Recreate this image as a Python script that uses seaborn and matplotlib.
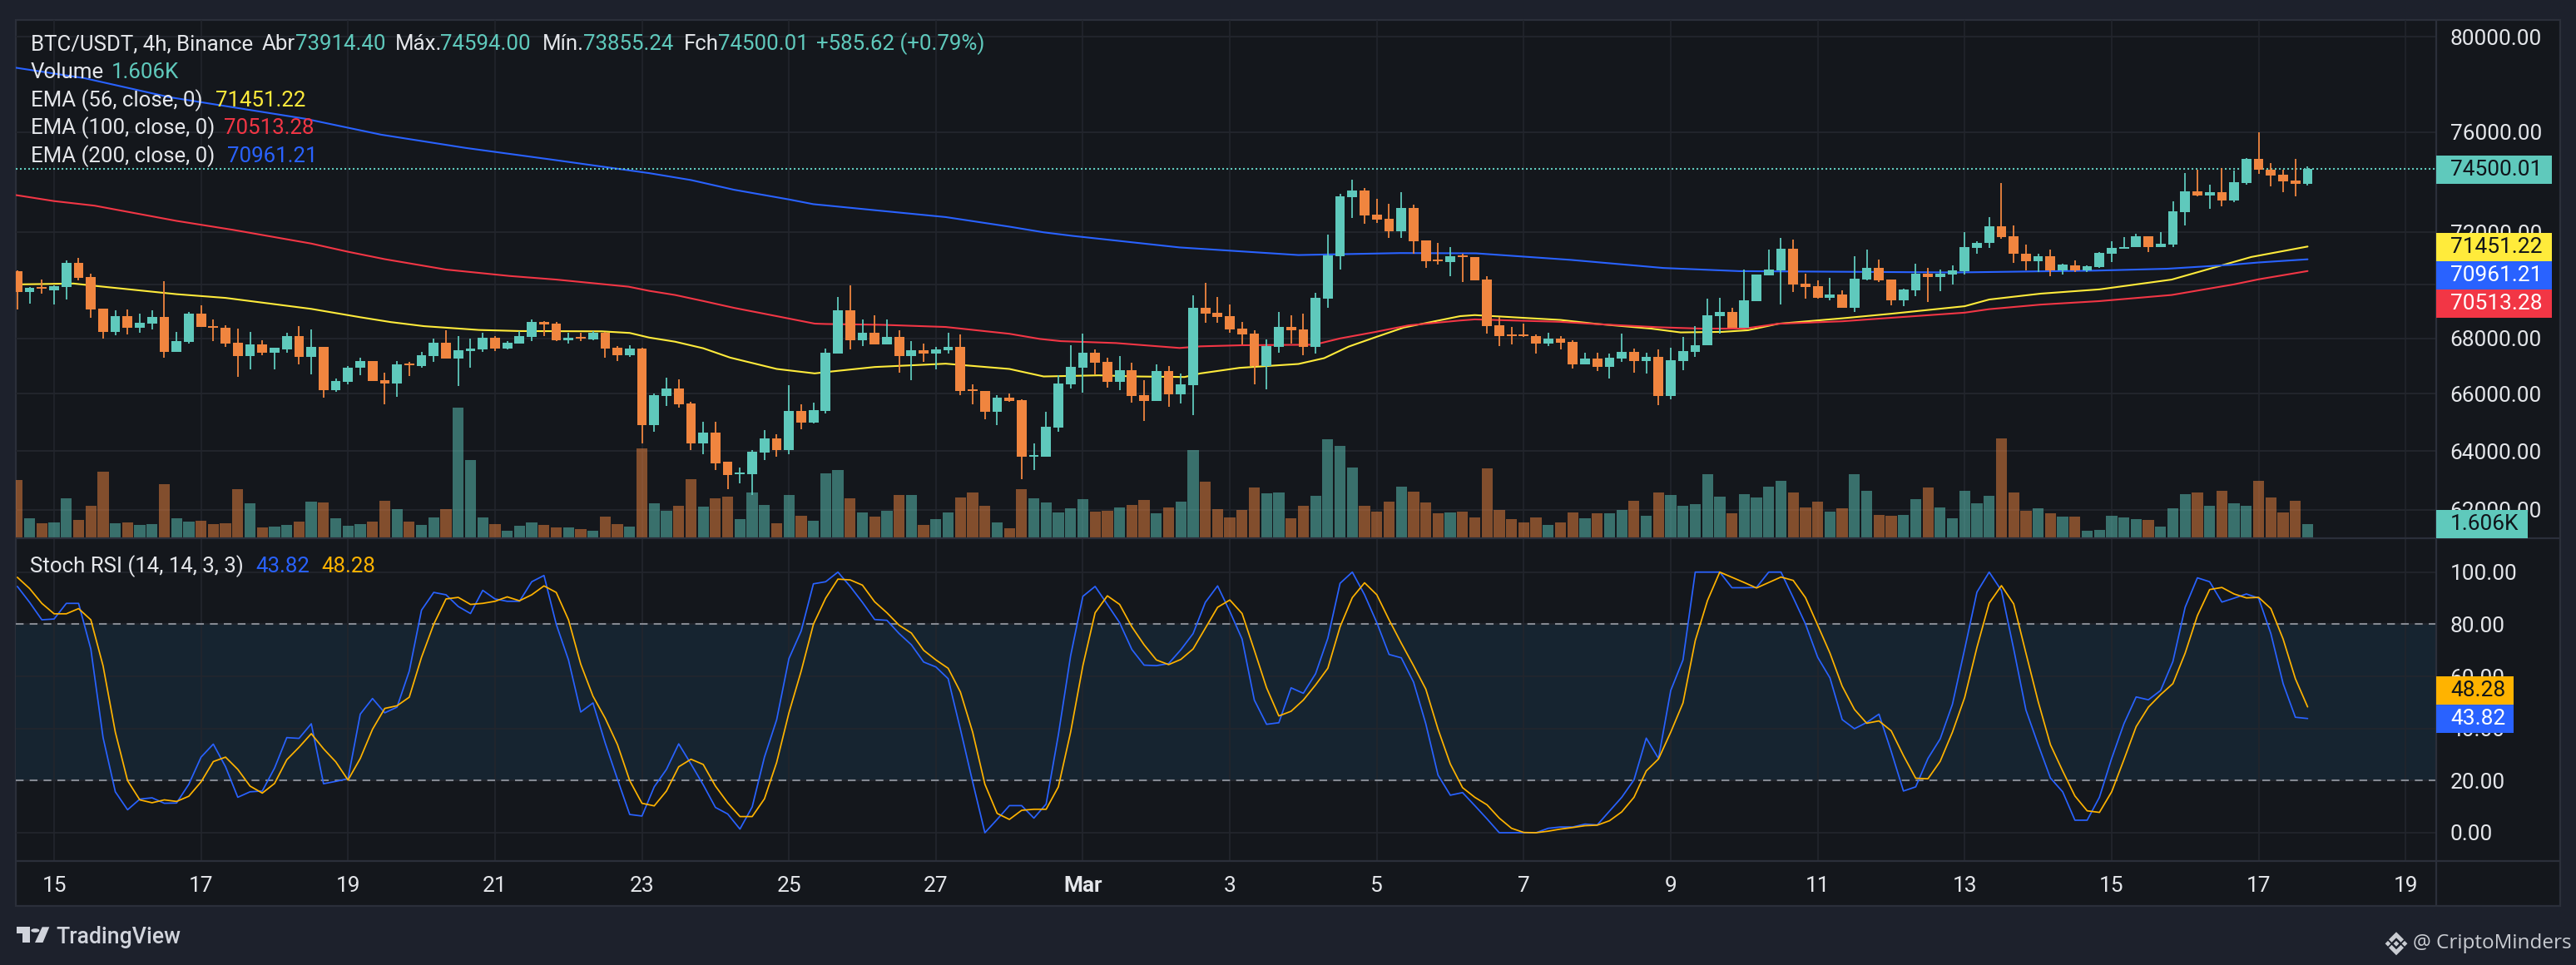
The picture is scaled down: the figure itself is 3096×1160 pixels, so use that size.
import numpy as np
import pandas as pd
import seaborn as sns
import matplotlib.pyplot as plt
from matplotlib.patches import Rectangle, Polygon, Circle
from matplotlib.lines import Line2D

# 4h candles, one value per bar
open_ = [70517,69727,69896,69779,69909,70830,70290,69100,68230,68820,
    68390,68540,68790,67510,67870,68900,68450,68390,67840,67360,
    67770,67480,67600,68080,67340,67690,66140,66440,66940,67190,
    66490,66370,67100,66990,67350,67840,67270,67530,67600,68010,
    67620,67810,68050,68600,68550,67920,68050,67970,68200,67660,
    67380,67640,64900,65930,66200,65660,64250,64640,63620,63210,
    63200,63930,64420,64020,65400,64990,65400,67450,69040,67930,
    68200,67780,68050,67360,67570,67450,67570,67690,66170,66110,
    65370,65870,65780,63790,63790,64810,66340,66950,67470,67150,
    66430,66850,65960,65750,66830,65990,66320,69130,68940,68820,
    68360,68170,67000,67690,68420,68330,67690,69460,71090,73390,
    73650,72690,72530,72030,72960,71680,70960,70860,71120,71060,
    70180,68480,68140,68140,68080,67810,67990,67870,67060,67270,
    66970,67270,67510,67180,67330,65930,67180,67510,67750,68820,
    68970,68390,69380,70350,70540,71350,70020,69930,69510,69620,
    69130,70180,70640,70180,69410,69780,70410,70280,70380,70500,
    71390,71590,72220,71840,71180,70900,71090,70540,70730,70540,
    70670,71180,71360,71420,71840,71440,71510,72790,73610,73440,
    73580,73250,73930,74900,74470,74280,74040,73914.40]
close = [69727,69870,69844,69935,70830,70245,69077,68230,68820,68390,
    68570,68790,67510,67900,68900,68420,68380,67810,67360,67770,
    67480,67650,68080,67340,67690,66140,66460,66950,67190,66470,
    66360,67060,67030,67380,67840,67270,67580,67640,68010,67620,
    67840,68080,68600,68500,67920,68010,67990,68200,67640,67380,
    67640,64900,65960,66200,65630,64250,64640,63570,63170,63260,
    63960,64420,64020,65400,64990,65430,67480,69040,67930,68200,
    67780,68050,67360,67570,67450,67600,67690,66110,66110,65370,
    65870,65750,63790,63850,64840,66370,66980,67470,67110,66430,
    66850,65930,65750,66830,65990,66350,69130,68910,68790,68330,
    68140,67000,67720,68420,68300,67690,69490,71120,73420,73650,
    72660,72490,72030,72960,71640,70900,70900,71090,71060,70150,
    68450,68080,68080,68080,67810,67990,67840,67060,67270,66970,
    67300,67510,67180,67330,65930,67210,67540,67750,68850,68970,
    68390,69410,70380,70570,71350,69990,69900,69510,69620,69130,
    70220,70640,70150,69410,69810,70410,70280,70410,70540,71420,
    71590,72220,71810,71160,70900,71090,70540,70750,70540,70700,
    71220,71390,71440,71840,71440,71550,72820,73610,73440,73580,
    73250,73970,74900,74460,74240,74010,73910,74500.01]
high = [70530,69896,70200,69960,70910,71000,70400,69100,69050,69060,
    68900,69050,70120,68240,68980,69220,68700,68480,68360,68240,
    67920,67670,68210,68450,68330,67690,66560,66990,67290,67190,
    66770,67170,67150,67500,68000,68300,68080,68000,68200,68080,
    67900,68270,68700,68640,68610,68200,68200,68270,68240,67710,
    67740,67660,66010,66590,66530,65720,65020,65020,63620,63430,
    64020,64710,64570,66310,65640,65700,67630,69530,69960,68690,
    68840,68690,68290,67900,67810,67690,68200,68140,66350,66110,
    65960,66020,65810,64270,65370,66670,67750,68170,67600,67300,
    67360,67120,66500,67070,67010,66740,69590,70080,69530,69250,
    68600,68290,67960,68970,68840,68900,69680,71900,73520,74080,
    73750,73320,73120,73580,73090,71680,71580,71420,71190,71060,
    70310,68790,68420,68540,68140,68200,68080,67930,67480,67480,
    67450,68170,67630,67480,67600,67660,68050,68450,69460,69490,
    69130,70570,70380,71320,71770,71710,70410,70150,70250,69770,
    71090,71320,70960,70180,69840,70800,70640,70570,70740,72000,
    71670,72600,73940,72280,71510,71180,71320,70780,70920,70730,
    71250,71650,71800,71950,71840,72000,73220,74330,74470,73880,
    74540,74450,74930,75990,74740,74470,74900,74594]
low = [69064,69298,69660,69246,69440,70150,68750,67990,68110,68140,
    68200,68320,67310,67510,67820,68420,67890,67700,66620,66880,
    67400,66880,67480,67060,66700,65860,66060,66340,66680,66470,
    65630,65900,66630,66950,67140,67270,66290,66950,67510,67530,
    67600,67810,67900,68080,67900,67810,67890,67920,67300,67180,
    67330,64270,64650,65580,65510,64020,63880,63340,62700,62890,
    62500,63680,63790,63900,64750,64960,65310,67450,67600,67720,
    67780,67780,66770,66500,67150,66890,67450,65960,65640,65110,
    64900,65730,63030,63350,63790,64670,66200,66050,66710,66230,
    66140,65690,65050,65750,65550,65670,65260,68570,68570,68200,
    67780,66350,66170,67480,67810,67390,67450,69130,70570,72560,
    72330,72360,71770,71770,71160,70640,70770,70310,70110,70150,
    68170,67720,67780,68050,67450,67720,67600,66910,67060,66820,
    66550,67150,66770,66740,65610,65810,66860,67330,67750,68170,
    68390,68390,69380,70350,69250,69720,69460,69480,69410,69130,
    68970,70150,70110,69220,69190,69560,69340,69750,69990,70390,
    71180,71390,71740,70830,70540,70480,70310,70390,70480,70480,
    70640,70870,71360,71420,71250,71420,71440,72280,73420,72910,
    73010,73180,73880,74310,73810,73580,73420,73855]
volume = [6900,2327,1734,1819,4738,2115,3849,7952,1734,1819,
    1523,1607,6430,2327,1904,2030,1607,1734,5837,4145,
    1227,1311,1523,1904,4315,4230,2327,1438,1607,1904,
    4442,3426,1904,1523,2411,3426,15693,9348,2411,1607,
    804,1438,1819,1523,1227,1227,1015,804,2538,1607,
    1311,10744,4108,3206,3808,7014,3707,4709,4910,2204,
    5411,3908,1703,5110,2605,2004,7715,8116,4709,3006,
    2505,3206,5110,5110,1503,2204,3006,4810,5411,3808,
    1804,1102,5812,4709,4208,3006,3507,4609,3106,3206,
    3607,3908,4509,2906,3607,4309,10521,6713,3407,2405,
    3307,6012,5311,5411,2305,3808,5010,11824,11022,8417,
    3808,3106,4309,6112,5511,4208,2906,3006,3106,2405,
    8317,3307,2204,1804,2405,1503,1804,3006,2305,2906,
    2906,3307,4409,2605,5411,5110,3808,4008,7615,4910,
    2906,5210,4810,6112,6814,5411,3607,4309,3106,3507,
    7615,5611,2705,2605,2705,4609,6012,3607,2305,5626,
    4145,5034,11971,5457,3215,3511,2919,2538,2538,804,
    931,2623,2411,2242,2115,1311,3511,5245,5457,3849,
    5626,4145,3849,6853,4822,3046,4442,1606]

stoch_k = [94.5,88.4,81.7,82,88,88,70.5,36.5,15.7,8.8,
    12.9,13.4,11.3,11.4,18.6,29,34,25.3,13.6,15.7,
    16,24.8,36.5,36.2,41.8,18.8,19.7,20.7,45.5,51.5,
    46,48.2,62,85.4,92.2,91.3,86.8,84.1,93,89.7,
    88.8,88.8,96.3,98.7,80,66.3,46.3,49.8,34.4,20.5,
    7,6.4,17.6,24.3,34.1,26.4,18.4,9.7,7.2,1.4,
    9.9,29,43.4,66.8,77.4,95.5,96.3,100,94.5,88.4,
    81.8,81.5,76.4,72.1,65.5,63.6,59.1,39.7,19.5,0,
    5.1,10.4,10.4,5.6,11,37.6,67.9,90.7,94.5,87.6,
    80.6,70.3,64.3,64.1,64.9,70.2,76.4,88.4,94.7,84.9,
    74.3,50.9,41.6,42.2,55.6,53.5,61,74.6,95.7,100,
    91.3,80.6,68.4,67.1,57.8,41.8,22.1,14.4,15.4,10.4,
    5.3,0,0,0,0,1.7,2.2,2.2,3.3,3,
    8.3,13.6,20.3,36.3,28.5,54.6,66.3,100,100,100,
    94,94,94.1,100,100,90.2,80.1,67.3,59.4,43.4,
    39.9,42.3,45.5,31.2,16,17.6,28.5,36,49.3,70.5,
    92.3,100,92.9,70.5,47.1,33.8,21,15.7,4.8,4.8,
    13.6,28.5,41.8,52.1,51,54.6,65.7,86.5,97.8,96.3,
    88.5,90,91.6,90,76.4,57.2,44.3,43.82]
stoch_d = [98,93.7,88,84,84,86,81.7,64,38.6,20,
    12.6,11.5,12.6,12,14,19.5,27.3,29,24.3,17.9,
    15.2,18.9,28,32.8,38,32.2,27.2,20.2,28.5,39.7,
    47.7,48.7,52,67.3,80,89.7,90.3,87.6,88,88.8,
    90.5,89,91.3,94.7,92.2,81.7,64.7,52.4,43.9,33.8,
    20,11.3,10.3,16,25.3,28.2,26.2,17.9,11.5,6.2,
    6.2,13,27,46,62,80,90,97.3,97,95,
    88.6,84.4,79.6,76.6,70,66.3,63.1,54,38.6,18.6,
    7.4,5.1,8.6,9,9,17.6,38.6,64.1,84.4,90.9,
    87.6,79,72.1,66.3,64.5,66.5,70.5,78.5,86.5,89.3,
    84.1,70,55.6,44.8,46.6,50.9,56.7,63.1,79,90.2,
    95.9,91.3,81.7,72.7,64.1,55.1,39.7,26.4,17.3,13.6,
    10.7,5.6,1.7,0.1,0,0.6,1.4,2,2.7,2.9,
    4.6,8,13.6,23.7,28.3,38.6,49.8,73.7,89.1,100,
    98,96,93.9,96,98.1,96.8,90.2,79.6,68.9,56.2,
    47.3,42,42.9,39.1,29.6,20.9,20.7,27.4,38.6,51.9,
    71.1,88.1,94.8,87.8,68.9,50.3,33.8,23.7,14.1,8.4,
    7.8,15.7,28,40.7,48.2,53,57.2,68.9,83.3,93.3,
    94.1,91.6,90.1,90.3,86,74.3,59.1,48.28]

# EMA lines, read at the bars where they bend
ema200_bars = [-0.1,5.5,12.4,23.5,29.7,36.6,43.6,51.6,55,58.5,63,65,70.6,75.8,81,83.8,86.2,94.9,
    104.6,112.9,119.1,126.8,134.4,140.6,147.6,158.3,169.7,175.5,180.7,183,187]
ema200 = [78675,78234,77440,76544,75890,75350,74880,74332,74057,73672,73287,73100,72836,72594,72220,72000,71860,71416,
    71124,71200,71190,70940,70630,70510,70490,70460,70530,70600,70750,70840,70961.21]
ema100_bars = [-0.1,3,6.3,13,17.6,24,27,30,35,40.2,44,49.9,51.6,53.7,56,58.5,62,65.1,66,70.6,75.8,81,83.5,85.2,89.7,
    94.9,96.6,100,105.9,108,110.8,113.6,117.8,119,126,128.8,134,137.5,141,143.8,149,153,159,161,165.2,170,175.9,181,183,187]
ema100 = [73458,73222,73042,72445,72097,71565,71250,70966,70570,70326,70190,69922,69764,69610,69384,69130,68820,68544,68530,68500,68420,68170,67980,67900,67830,
    67650,67710,67750,67770,68000,68230,68480,68660,68700,68610,68530,68410,68360,68360,68540,68630,68760,68950,69080,69250,69380,69610,70010,70200,70513.28]
ema56_bars = [0.3,4.6,6.4,13,17,24,28,30.5,33.2,37.7,41,47.7,50,51.6,53.7,56,58.2,62,65.1,66.5,70,75.8,81,83.8,88.3,91.4,95.3,96.6,99.8,
    104.6,106.7,108.7,110.8,113.2,117.8,119,126,128.8,133.4,135.8,139.2,141.3,143.8,149,153,159,161,165.2,170,175.9,182.4,187]
ema56 = [70010,70040,69950,69640,69500,69090,68780,68600,68450,68310,68270,68260,68200,68030,67880,67640,67300,66890,66730,66800,66960,67080,66890,66620,66660,66620,66600,66730,66930,
    67070,67280,67700,68030,68400,68820,68860,68680,68540,68360,68220,68240,68300,68540,68740,68910,69190,69440,69660,69820,70190,71050,71451.22]

price_ticks = [62000, 64000, 66000, 68000, 70000, 72000, 76000, 80000]
stoch_ticks = [0, 20, 40, 60, 80, 100]
date_bars = [3, 15, 27, 39, 51, 63, 75, 87, 99, 111, 123, 135, 147, 159, 171, 183, 195]
date_labels = ['15', '17', '19', '21', '23', '25', '27', 'Mar', '3', '5', '7', '9', '11', '13', '15', '17', '19']

W, H = 3096, 1160
BG = '#1d212c'
PANE = '#14171c'
GRID = '#23262d'
BORDER = '#2b2f3a'
TEAL = '#5fc9bc'
ORANGE = '#f0853f'
YELLOW = '#ffeb3b'
RED = '#f23645'
BLUE = '#2962ff'
AMBER = '#ffb300'
WHITE = '#e4e6ea'
FS = 18.9
LEG = 18.6

sns.set_theme(style='dark')
plt.rcParams['font.family'] = ['Roboto', 'DejaVu Sans']

df = pd.DataFrame({'bar': range(len(close)), 'open': open_, 'high': high, 'low': low, 'close': close,
                   'volume': volume, 'k': stoch_k, 'd': stoch_d})
df['dir'] = np.where(df['close'] >= df['open'], 'up', 'down')

fig = plt.figure(figsize=(W / 100, H / 100), dpi=100, facecolor=BG)


def rect_px(left, top, right, bottom):
    return [left / W, 1 - bottom / H, (right - left) / W, (bottom - top) / H]


def text_px(x, y, s, color=WHITE, size=FS, **kw):
    fig.text(x / W, 1 - y / H, s, color=color, fontsize=size, va='center', zorder=7, **kw)


def box_px(left, top, right, bottom, color, z=6):
    fig.add_artist(Rectangle((left / W, 1 - bottom / H), (right - left) / W, (bottom - top) / H,
                             transform=fig.transFigure, facecolor=color, edgecolor='none', zorder=z))


def line_px(x0, y0, x1, y1):
    fig.add_artist(Line2D([x0 / W, x1 / W], [1 - y0 / H, 1 - y1 / H], transform=fig.transFigure,
                          color=BORDER, lw=1.6, zorder=3))


def poly_px(points, color):
    fig.add_artist(Polygon([(x / W, 1 - y / H) for x, y in points], transform=fig.transFigure,
                           facecolor=color, edgecolor='none', zorder=7))


# dark chart area behind all the panes
fig.add_artist(Rectangle((19.4 / W, 1 - 1089 / H), (3077 - 19.4) / W, (1089 - 23.5) / H,
                         transform=fig.transFigure, facecolor=PANE, edgecolor=BORDER, lw=1.6, zorder=-1))

x_range = (-0.098, 197.5)
price_range = (61086, 80746)

# bottom layer: grid and price ticks, middle: volume, top: lines and candles
ax_grid = fig.add_axes(rect_px(19.4, 23.5, 2928, 646))
ax_vol = ax_grid.twinx()
ax_price = ax_grid.twinx()

sns.barplot(data=df, x='bar', y='volume', hue='dir', palette={'up': TEAL, 'down': ORANGE}, native_scale=True,
            width=0.9, dodge=False, alpha=0.5, saturation=1, linewidth=0, legend=False, ax=ax_vol)
ax_vol.set_ylim(0, 62500)

sns.lineplot(x=ema56_bars, y=ema56, color=YELLOW, lw=1.5, estimator=None, ax=ax_price)
sns.lineplot(x=ema100_bars, y=ema100, color=RED, lw=1.5, estimator=None, ax=ax_price)
sns.lineplot(x=ema200_bars, y=ema200, color=BLUE, lw=1.5, estimator=None, ax=ax_price)

colors = df['dir'].map({'up': TEAL, 'down': ORANGE})
ax_price.vlines(df['bar'], df['low'], df['high'], colors=colors, lw=1.3, zorder=4)
ax_price.bar(df['bar'], (df['close'] - df['open']).abs(), bottom=df[['open', 'close']].min(axis=1),
             width=0.8, color=colors, linewidth=0, zorder=5)
ax_price.axhline(74500.01, color=TEAL, lw=1.5, ls=(0, (1, 1.4)), zorder=3)

for a in (ax_grid, ax_price):
    a.set_yscale('log')
    a.set_ylim(*price_range)
for a in (ax_grid, ax_vol, ax_price):
    a.set_xlim(*x_range)
    a.set_xlabel('')
    a.set_ylabel('')
    a.set_facecolor('none')
    a.grid(False)
    a.minorticks_off()
    for s in a.spines.values():
        s.set_visible(False)
ax_vol.set_yticks([])
ax_vol.set_xticks([])
ax_price.set_yticks([])
ax_price.set_xticks([])

ax_grid.yaxis.tick_right()
ax_grid.set_yticks(price_ticks)
ax_grid.set_yticklabels(['%.2f' % p for p in price_ticks])
ax_grid.set_xticks(date_bars)
ax_grid.set_xticklabels([])
ax_grid.tick_params(axis='y', length=0, pad=12, labelsize=FS, labelcolor=WHITE)
ax_grid.tick_params(axis='x', length=0)
ax_grid.grid(True, axis='y', color=GRID, lw=1.3)
ax_grid.grid(True, axis='x', color=GRID, lw=1.1)
ax_grid.set_axisbelow(True)

# stochastic pane
ax_st = fig.add_axes(rect_px(19.4, 648, 2928, 1034.7))
ax_st.set_facecolor('none')
ax_st.axhspan(20, 80, color='#162430', lw=0, zorder=0)
ax_st.yaxis.tick_right()
ax_st.set_yticks(stoch_ticks)
ax_st.set_yticklabels(['%.2f' % v for v in stoch_ticks])
ax_st.set_xticks(date_bars)
ax_st.set_xticklabels(date_labels)
ax_st.tick_params(axis='y', length=0, pad=12, labelsize=FS, labelcolor=WHITE)
ax_st.tick_params(axis='x', length=0, pad=13, labelsize=FS, labelcolor=WHITE)
ax_st.get_xticklabels()[date_labels.index('Mar')].set_fontweight('bold')
ax_st.grid(True, color=GRID, lw=1.2, zorder=1)
for level in (20, 80):
    ax_st.axhline(level, color='#858992', lw=1.5, ls=(0, (4.5, 3.5)), zorder=2)
sns.lineplot(data=df, x='bar', y='k', color=BLUE, lw=1.25, estimator=None, ax=ax_st, zorder=3)
sns.lineplot(data=df, x='bar', y='d', color=AMBER, lw=1.25, estimator=None, ax=ax_st, zorder=4)
ax_st.set_xlim(*x_range)
ax_st.set_ylim(-10.76, 112.67)
ax_st.set_xlabel('')
ax_st.set_ylabel('')
for s in ax_st.spines.values():
    s.set_visible(False)

line_px(19.4, 647, 3077, 647)
line_px(19.4, 1034.7, 3077, 1034.7)
line_px(2928, 23.5, 2928, 1089)

# legend lines
text_px(36.7, 53, 'BTC/USDT, 4h, Binance', size=LEG)
text_px(315, 53, 'Abr', size=LEG)
text_px(355, 53, '73914.40', TEAL, LEG)
text_px(475, 53, 'Máx.', size=LEG)
text_px(528.6, 53, '74594.00', TEAL, LEG)
text_px(651.5, 53, 'Mín.', size=LEG)
text_px(700.5, 53, '73855.24', TEAL, LEG)
text_px(821.8, 53, 'Fch', size=LEG)
text_px(863, 53, '74500.01', TEAL, LEG)
text_px(980.6, 53, '+585.62 (+0.79%)', TEAL, LEG)
text_px(36.7, 87, 'Volume', size=LEG)
text_px(133.7, 87, '1.606K', TEAL, LEG)
text_px(36.7, 120.5, 'EMA (56, close, 0)', size=LEG)
text_px(259, 120.5, '71451.22', YELLOW, LEG)
text_px(36.7, 154, 'EMA (100, close, 0)', size=LEG)
text_px(269.4, 154, '70513.28', RED, LEG)
text_px(36.7, 188, 'EMA (200, close, 0)', size=LEG)
text_px(273.5, 188, '70961.21', BLUE, LEG)
text_px(36.5, 681, 'Stoch RSI (14, 14, 3, 3)', size=LEG)
text_px(307, 681, '43.82', BLUE, LEG)
text_px(386.6, 681, '48.28', AMBER, LEG)

# value tags on the right scale
box_px(2928, 187, 3067, 221, TEAL)
text_px(2945, 204, '74500.01', '#10141a')
box_px(2928, 280, 3067, 314, YELLOW)
text_px(2945, 297, '71451.22', '#10141a')
box_px(2928, 314, 3067, 348, BLUE)
text_px(2945, 331, '70961.21', 'white')
box_px(2928, 348, 3067, 382, RED)
text_px(2945, 365, '70513.28', 'white')
box_px(2928, 613, 3037.6, 647, TEAL)
text_px(2945, 630, '1.606K', '#10141a')
box_px(2928, 812.7, 3021, 847, AMBER)
text_px(2945, 830, '48.28', '#10141a')
box_px(2928, 847, 3021, 880.7, BLUE)
text_px(2945, 864, '43.82', 'white')

# footer, TradingView mark
LOGO = '#d1d4dc'
poly_px([(20, 1114.3), (36, 1114.3), (36, 1133), (27.3, 1133), (27.3, 1121.7), (20, 1121.7)], LOGO)
fig.add_artist(Circle((42.3 / W, 1 - 1118.5 / H), 4.3 / W, transform=fig.transFigure, color=LOGO, zorder=7))
poly_px([(50.7, 1114.3), (59.3, 1114.3), (51.5, 1133), (42, 1133)], LOGO)
text_px(67, 1126, 'TradingView', LOGO, 19.2, fontweight='medium')

# footer, diamond mark and account name
MARK = '#c9ccd2'
cx, cy = 2880, 1134.3
poly_px([(cx, cy - 14), (cx + 9, cy - 5), (cx + 5.5, cy - 1.5), (cx, cy - 7), (cx - 5.5, cy - 1.5), (cx - 9, cy - 5)], MARK)
poly_px([(cx, cy + 14), (cx + 9, cy + 5), (cx + 5.5, cy + 1.5), (cx, cy + 7), (cx - 5.5, cy + 1.5), (cx - 9, cy + 5)], MARK)
for dx in (-10, 0, 10):
    r = 3.4
    poly_px([(cx + dx, cy - r), (cx + dx + r, cy), (cx + dx, cy + r), (cx + dx - r, cy)], MARK)
fig.text(2900 / W, 1 - 1134 / H, '@ CriptoMinders', color=MARK, fontsize=17.5, va='center', zorder=7, family='Open Sans')

plt.savefig('out.png', dpi=100, facecolor=BG)
